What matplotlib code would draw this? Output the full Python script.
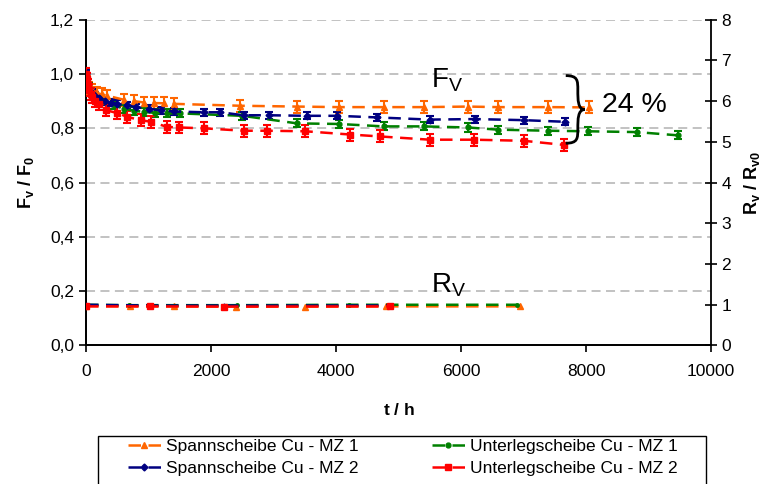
import matplotlib
matplotlib.use("Agg")
import matplotlib.pyplot as plt
from matplotlib.path import Path
from matplotlib.patches import PathPatch, Rectangle
from matplotlib.ticker import FuncFormatter

plt.rcParams['font.family'] = ['Liberation Sans', 'DejaVu Sans']
plt.rcParams['mathtext.fontset'] = 'custom'
plt.rcParams['mathtext.rm'] = 'Liberation Sans'
plt.rcParams['mathtext.it'] = 'Liberation Sans:italic'
plt.rcParams['mathtext.bf'] = 'Liberation Sans:bold'

# Vorspannkraft F_v / F_0
t_span1 = [0, 20, 50, 100, 170, 250, 341, 608, 768, 928, 1088, 1248, 1408,
           2470, 3380, 4040, 4760, 5400, 6110, 6590, 7390, 8050]
f_span1 = [1.0, 0.97, 0.95, 0.94, 0.93, 0.925, 0.92, 0.905, 0.90, 0.895, 0.893,
           0.892, 0.89, 0.883, 0.88, 0.878, 0.878, 0.878, 0.88, 0.878, 0.878, 0.877]

t_unter1 = [0, 20, 50, 100, 200, 290, 450, 600, 770, 930, 1100, 1300, 1500,
            2500, 3380, 4040, 4760, 5400, 6110, 6590, 7390, 8030, 8816, 9472]
f_unter1 = [1.0, 0.97, 0.95, 0.93, 0.91, 0.90, 0.885, 0.872, 0.865, 0.86, 0.857,
            0.855, 0.855, 0.846, 0.818, 0.816, 0.807, 0.807, 0.803, 0.795, 0.791,
            0.789, 0.786, 0.774]

t_span2 = [0, 20, 50, 100, 150, 200, 300, 400, 500, 650, 800, 1000, 1200, 1400,
           1880, 2150, 2520, 2920, 3540, 4020, 4660, 5500, 6220, 7000, 7660]
f_span2 = [1.0, 0.97, 0.95, 0.93, 0.92, 0.91, 0.90, 0.895, 0.89, 0.885, 0.878,
           0.872, 0.866, 0.862, 0.859, 0.859, 0.848, 0.848, 0.846, 0.846, 0.84,
           0.832, 0.834, 0.83, 0.824]

t_unter2 = [0, 10, 25, 50, 75, 100, 150, 200, 315, 500, 660, 875, 1035, 1300,
            1490, 1880, 2520, 2900, 3510, 4230, 4700, 5500, 6200, 7000, 7640]
f_unter2 = [1.0, 0.98, 0.96, 0.94, 0.925, 0.915, 0.90, 0.89, 0.867, 0.856, 0.842,
            0.83, 0.824, 0.805, 0.803, 0.80, 0.791, 0.791, 0.789, 0.777, 0.77,
            0.758, 0.758, 0.754, 0.739]

err_span1, err_unter1, err_span2, err_unter2 = 0.022, 0.015, 0.013, 0.022

# Widerstand R_v / R_v0
rt_span1 = [0, 700, 1400, 2400, 3500, 4800, 6950]
r_span1 = [0.97, 0.96, 0.96, 0.955, 0.955, 0.96, 0.96]
rt_unter1 = [0, 690, 2415, 4215, 6900]
r_unter1 = [1.0, 0.99, 0.99, 1.0, 1.0]
rt_span2 = [0, 1025, 2200, 4870]
r_span2 = [1.0, 0.98, 0.98, 0.98]
rt_unter2 = [0, 1025, 2200, 4870]
r_unter2 = [0.96, 0.96, 0.955, 0.96]

labels = ["Spannscheibe Cu - MZ 1", "Unterlegscheibe Cu - MZ 1",
          "Spannscheibe Cu - MZ 2", "Unterlegscheibe Cu - MZ 2"]
colors = ["#FF6600", "#008000", "#000080", "#FF0000"]
markers = ["^", "o", "D", "s"]
msizes = [5, 3.5, 3.5, 5]

fig = plt.figure(figsize=(7.68, 4.84), dpi=100)
ax = fig.add_axes([0.112, 0.2862, 0.8138, 0.6731])
ax2 = ax.twinx()

f_series = [(t_span1, f_span1, err_span1), (t_unter1, f_unter1, err_unter1),
            (t_span2, f_span2, err_span2), (t_unter2, f_unter2, err_unter2)]
r_series = [(rt_span1, r_span1), (rt_unter1, r_unter1),
            (rt_span2, r_span2), (rt_unter2, r_unter2)]

handles = []
for (t, f, e), c, m, ms, lab in zip(f_series, colors, markers, msizes, labels):
    eb = ax2.errorbar(t, [v * 8 / 1.2 for v in f], yerr=e * 8 / 1.2, color=c,
                      marker=m, markersize=ms, lw=1.8, dashes=(5, 3),
                      capsize=3, elinewidth=1.5, capthick=1.5, zorder=3)
    handles.append(eb[0])

for (t, r), c, m, ms in zip(r_series, colors, markers, msizes):
    ax2.plot(t, r, color=c, marker=m, markersize=ms - 1, lw=1.8, dashes=(5, 3), zorder=3)

ax.set_xlim(0, 10000)
ax.set_ylim(0, 1.2)
ax2.set_ylim(0, 8)
ax.set_yticks([0, 0.2, 0.4, 0.6, 0.8, 1.0, 1.2])
ax.yaxis.set_major_formatter(FuncFormatter(lambda v, p: f"{v:.1f}".replace(".", ",")))
ax.set_xticks(range(0, 10001, 2000))
ax2.set_yticks(range(0, 9))

for y in [0.2, 0.4, 0.6, 0.8, 1.0, 1.2]:
    ax.axhline(y, color="#bdbdbd", lw=1.3, dashes=(5, 3), zorder=0)

for a in (ax, ax2):
    a.spines['top'].set_visible(False)
    a.spines['left'].set_linewidth(1.3)
    a.spines['right'].set_linewidth(1.3)
    a.spines['bottom'].set_linewidth(1.3)
ax.spines['right'].set_visible(False)
ax.tick_params(axis='both', labelsize=12.5, width=1.2, length=5, direction='out')
ax.tick_params(axis='x', pad=8)
ax2.tick_params(axis='y', labelsize=12.5, width=1.2, length=8, direction='inout')

ax.set_xlabel(r"$\mathbf{t\ /\ h}$", fontsize=12.5, labelpad=17)
ax.set_ylabel(r"$\mathbf{F_v\ /\ F_0}$", fontsize=13, labelpad=10)
ax2.set_ylabel(r"$\mathbf{R_v\ /\ R_{v0}}$", fontsize=13, labelpad=8)

# Beschriftungen im Diagramm
ax2.text(5520, 0.95 * 8 / 1.2, r"F$_\mathregular{V}$", fontsize=20, ha="left", va="baseline")
ax2.text(5520, 0.195 * 8 / 1.2, r"R$_\mathregular{V}$", fontsize=20, ha="left", va="baseline")
ax2.text(8250, 0.885 * 8 / 1.2, "24 %", fontsize=20.5, ha="left", va="center")

# geschweifte Klammer
x0, x1, x2 = 7676, 7869, 7980
ytop, ymid, ybot = 0.994 * 8 / 1.2, 0.869 * 8 / 1.2, 0.745 * 8 / 1.2
d = 0.12
verts = [(x0, ytop), (x1, ytop), (x1, ytop - d), (x1, ytop - 3 * d),
         (x1, ymid + 2 * d), (x1, ymid), (x2, ymid),
         (x1, ymid), (x1, ymid - 2 * d), (x1, ybot + 3 * d),
         (x1, ybot + d), (x1, ybot), (x0, ybot)]
codes = [Path.MOVETO] + [Path.CURVE4] * 12
ax2.add_patch(PathPatch(Path(verts, codes), fill=False, lw=2.0, color="black", zorder=4))

# Legende mit eigenem Rahmen (unten abgeschnitten wie im Original)
fig.patches.append(Rectangle((98 / 768, -0.05), 608 / 768, 0.05 + 1 - 436 / 484,
                             transform=fig.transFigure, fill=False,
                             edgecolor="black", lw=1.0))
leg = fig.legend([handles[0], handles[2], handles[1], handles[3]],
                 [labels[0], labels[2], labels[1], labels[3]],
                 loc="upper left", bbox_to_anchor=(128 / 768, 1 - 439 / 484),
                 ncol=2, fontsize=12.5, frameon=False,
                 handlelength=1.9, handletextpad=0.3, columnspacing=4.2,
                 borderpad=0, labelspacing=0.4, numpoints=1, borderaxespad=0)

fig.savefig("out.png", dpi=100)
